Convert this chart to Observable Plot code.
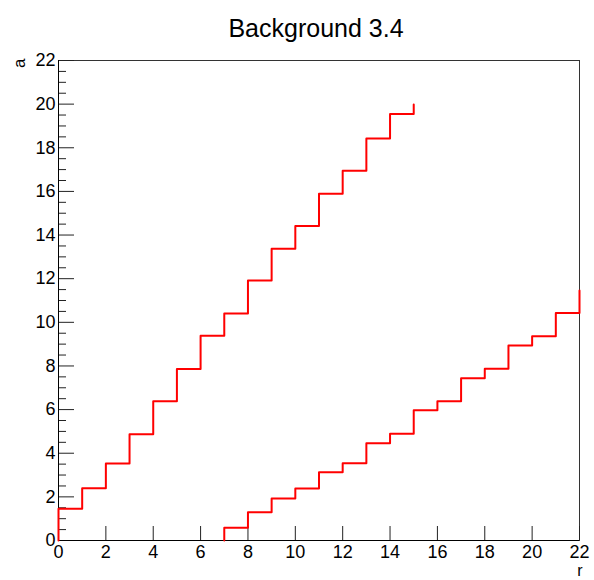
<!DOCTYPE html>
<html><head><meta charset="utf-8">
<script src="https://cdn.jsdelivr.net/npm/d3@7"></script>
<script src="https://cdn.jsdelivr.net/npm/@observablehq/plot@0.6"></script>
<style>body{margin:0;background:#fff;} svg{display:block;}</style>
</head><body><div id="chart"></div>
<script>
const title = "Background 3.4";
const xLabel = "r";
const yLabel = "a";
const upperR = [0, 0, 1, 2, 3, 4, 5, 6, 7, 8, 9, 10, 11, 12, 13, 14, 15];
const upperA = [0, 1.46, 2.40, 3.53, 4.87, 6.38, 7.86, 9.39, 10.40, 11.92, 13.37, 14.42, 15.89, 16.95, 18.43, 19.55, 19.98];
const lowerR = [7, 7, 8, 9, 10, 11, 12, 13, 14, 15, 16, 17, 18, 19, 20, 21, 22];
const lowerA = [0, 0.58, 1.29, 1.92, 2.38, 3.13, 3.54, 4.46, 4.89, 5.97, 6.38, 7.44, 7.87, 8.94, 9.36, 10.43, 11.46];
const xTicks = [0, 2, 4, 6, 8, 10, 12, 14, 16, 18, 20, 22];
const yTicks = [0, 2, 4, 6, 8, 10, 12, 14, 16, 18, 20, 22];
const yMinor = d3.range(0, 22.001, 0.5).filter(v => !yTicks.includes(v));

const upper = upperR.map((r, i) => ({r, a: upperA[i]}));
const lower = lowerR.map((r, i) => ({r, a: lowerA[i]}));

const W = 594, H = 580, mL = 58, mR = 15, mT = 60, mB = 40;
const pw = W - mL - mR, ph = H - mT - mB;

const chart = Plot.plot({
  width: W, height: H,
  marginLeft: mL, marginRight: mR, marginTop: mT, marginBottom: mB,
  style: {fontFamily: "'Liberation Sans', Arial, sans-serif", background: "#fff", color: "#000"},
  x: {domain: [0, 22]},
  y: {domain: [0, 22]},
  marks: [
    Plot.frame({stroke: "#333", strokeWidth: 1}),
    Plot.tickX(xTicks, {x: d => d, insetTop: ph - 14, stroke: "#222", strokeWidth: 1}),
    Plot.tickY(yTicks, {y: d => d, insetRight: pw - 16, stroke: "#222", strokeWidth: 1}),
    Plot.tickY(yMinor, {y: d => d, insetRight: pw - 8, stroke: "#222", strokeWidth: 1}),
    Plot.axisX({ticks: xTicks, tickSize: 0, tickPadding: 5, fontSize: 18, label: null, tickFormat: d => String(d)}),
    Plot.axisY({ticks: yTicks, tickSize: 0, tickPadding: 3, fontSize: 18, label: null, tickFormat: d => String(d)}),
    Plot.ruleX([0], {stroke: "#000"}),
    Plot.ruleY([0], {stroke: "#000"}),
    Plot.line(upper, {x: "r", y: "a", curve: "step-after", stroke: "#ff0000", strokeWidth: 2}),
    Plot.line(lower, {x: "r", y: "a", curve: "step-after", stroke: "#ff0000", strokeWidth: 2}),
    Plot.text([title], {frameAnchor: "top", text: d => d, dy: -41, dx: -3, fontSize: 25, fill: "#000"}),
    Plot.text([yLabel], {frameAnchor: "top-left", text: d => d, rotate: -90, textAnchor: "end", dx: -46, dy: -2, fontSize: 17, fill: "#000"}),
    Plot.text([xLabel], {frameAnchor: "bottom-right", text: d => d, textAnchor: "end", dx: 3, dy: 35, fontSize: 16, fill: "#000"})
  ]
});
document.getElementById("chart").appendChild(chart);
</script>
</body></html>
